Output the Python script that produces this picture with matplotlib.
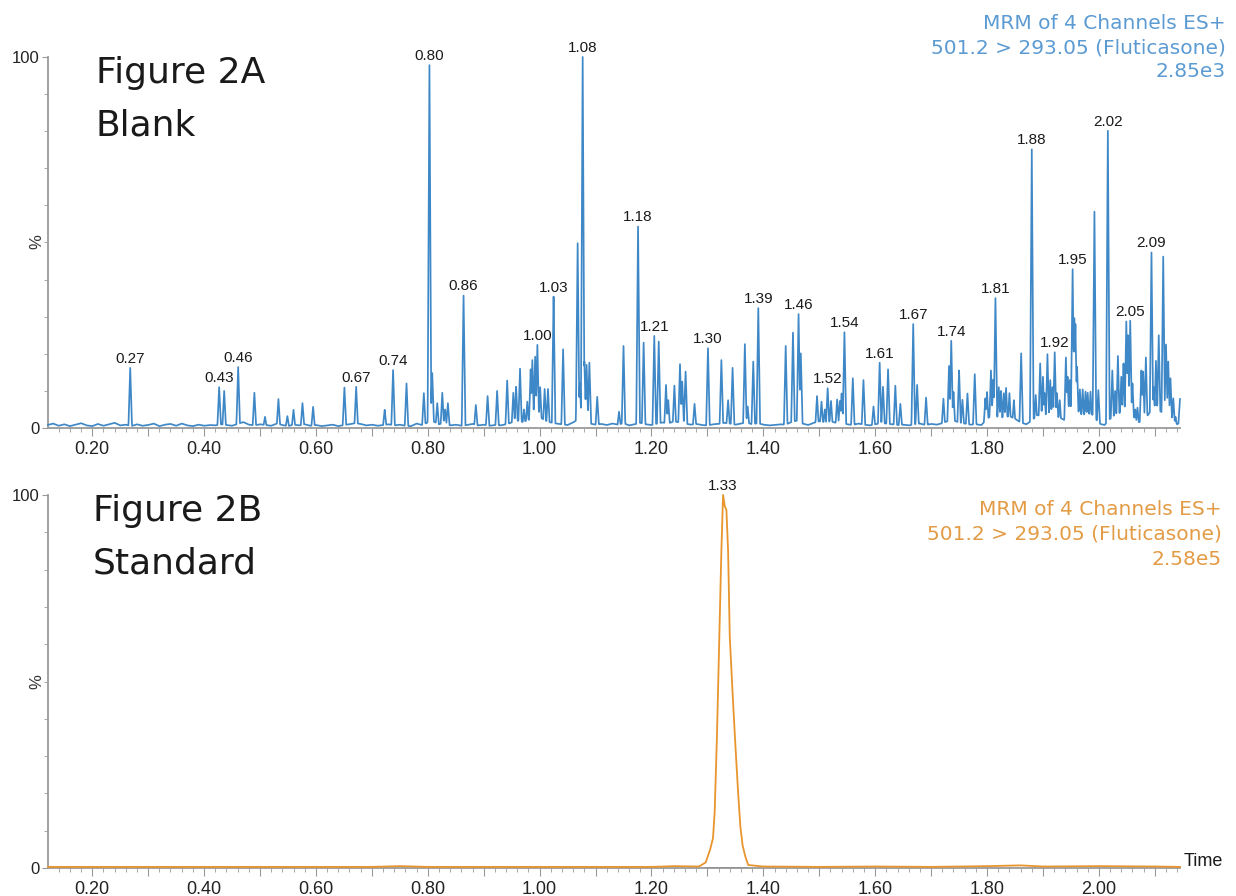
import numpy as np
import matplotlib
matplotlib.use("Agg")
import matplotlib.pyplot as plt
from matplotlib.ticker import FixedLocator, MultipleLocator, FuncFormatter

# ---------------- data ----------------
# Figure 2A (blank): apex time (min) and height (%) of each spike
peak_time = [0.268, 0.427, 0.436, 0.461, 0.490, 0.509, 0.533, 0.549, 0.560, 0.576,
             0.595, 0.651, 0.672, 0.723, 0.738, 0.762, 0.793, 0.803, 0.808, 0.817,
             0.826, 0.831, 0.836, 0.864, 0.886, 0.907, 0.924, 0.942, 0.953, 0.958,
             0.965, 0.972, 0.978, 0.984, 0.987, 0.992, 0.996, 1.001, 1.009, 1.015,
             1.025, 1.042, 1.068, 1.072, 1.077, 1.080, 1.084, 1.089, 1.103, 1.142,
             1.150, 1.176, 1.186, 1.205, 1.213, 1.226, 1.230, 1.241, 1.251, 1.255,
             1.261, 1.277, 1.301, 1.325, 1.337, 1.345, 1.367, 1.372, 1.382, 1.391,
             1.440, 1.453, 1.463, 1.467, 1.496, 1.504, 1.510, 1.515, 1.521, 1.532,
             1.537, 1.540, 1.545, 1.560, 1.579, 1.597, 1.608, 1.614, 1.623, 1.636,
             1.645, 1.668, 1.675, 1.691, 1.722, 1.732, 1.736, 1.740, 1.750, 1.756,
             1.765, 1.778, 1.797, 1.800, 1.807, 1.811, 1.815, 1.821, 1.825, 1.830,
             1.834, 1.840, 1.848, 1.861, 1.880, 1.887, 1.895, 1.900, 1.903, 1.908,
             1.913, 1.917, 1.921, 1.925, 1.930, 1.941, 1.944, 1.948, 1.953, 1.956,
             1.958, 1.961, 1.966, 1.971, 1.976, 1.980, 1.985, 1.992, 1.999, 2.016,
             2.024, 2.029, 2.034, 2.040, 2.044, 2.049, 2.052, 2.056, 2.060, 2.065,
             2.069, 2.076, 2.079, 2.084, 2.094, 2.098, 2.102, 2.107, 2.115, 2.120,
             2.124, 2.128, 2.133, 2.137, 2.145]
peak_height = [16.2, 11.0, 10.0, 16.4, 9.5, 3.0, 7.8, 3.2, 4.9, 6.7,
               5.7, 10.9, 11.1, 4.9, 15.6, 12.0, 9.4, 97.8, 14.8, 6.7,
               9.5, 5.0, 6.7, 35.7, 6.2, 8.6, 10.0, 12.8, 9.5, 11.1,
               16.0, 5.0, 7.1, 15.8, 18.3, 19.2, 22.4, 11.0, 10.5, 10.5,
               35.4, 21.2, 49.8, 12.0, 100.0, 17.9, 17.0, 17.6, 8.4, 4.4,
               22.1, 54.3, 23.0, 24.8, 23.3, 11.6, 7.5, 11.4, 17.2, 12.5,
               15.2, 6.5, 21.5, 18.3, 7.5, 16.2, 22.6, 5.8, 17.9, 32.3,
               22.1, 25.7, 30.7, 20.1, 8.6, 7.1, 5.0, 10.7, 7.3, 7.7,
               7.3, 9.3, 25.8, 13.4, 12.9, 5.8, 17.6, 11.1, 15.8, 11.4,
               6.5, 28.0, 11.6, 8.2, 7.9, 16.7, 23.5, 9.7, 15.5, 7.6,
               9.3, 14.5, 8.0, 9.7, 15.5, 13.0, 35.0, 11.0, 10.0, 9.4,
               10.8, 9.4, 7.5, 20.1, 75.1, 8.9, 17.4, 13.8, 9.4, 19.9,
               12.9, 11.0, 20.4, 9.4, 7.5, 19.0, 13.8, 12.9, 42.8, 29.6,
               28.0, 16.5, 10.4, 10.4, 9.8, 9.5, 9.8, 58.3, 10.2, 80.1,
               15.5, 10.0, 19.4, 13.8, 17.4, 28.7, 25.0, 28.9, 12.0, 5.0,
               5.5, 15.5, 15.2, 19.0, 47.3, 11.0, 18.1, 25.0, 46.2, 22.5,
               17.9, 13.4, 8.0, 3.0, 7.8]

# Figure 2A baseline level (%) sampled every 0.01 min from 0.12 to 2.15
baseline_level = [0.8, 1.2, 0.6, 1.0, 0.5, 0.9, 1.3, 0.7, 0.5, 1.1,
                  0.6, 1.0, 1.4, 0.7, 0.9, 0.5, 1.0, 0.6, 0.8, 1.2,
                  0.5, 0.9, 1.1, 0.6, 1.2, 0.7, 0.5, 0.9, 0.6, 0.8,
                  0.7, 1.0, 0.8, 0.6, 1.1, 1.6, 0.9, 0.7, 1.0, 0.8,
                  0.6, 1.2, 0.8, 0.5, 0.9, 0.7, 1.0, 0.6, 0.8, 0.5,
                  0.7, 0.9, 0.5, 0.8, 1.0, 1.3, 1.1, 0.7, 0.9, 0.6,
                  0.8, 1.0, 0.7, 0.9, 0.6, 0.5, 1.2, 0.8, 1.5, 1.8,
                  1.0, 1.4, 0.7, 0.9, 0.6, 0.8, 1.1, 0.7, 0.9, 0.6,
                  0.8, 0.7, 1.0, 1.5, 2.0, 1.6, 2.2, 2.5, 3.0, 2.0,
                  1.5, 1.2, 1.0, 0.8, 1.5, 2.5, 2.0, 1.2, 0.9, 1.1,
                  0.8, 1.2, 0.9, 1.3, 0.7, 1.0, 1.4, 1.0, 0.8, 1.2,
                  1.5, 1.2, 1.8, 1.5, 1.2, 0.9, 1.1, 0.8, 0.7, 1.0,
                  1.1, 1.4, 1.2, 0.9, 1.2, 1.5, 1.0, 1.3, 0.9, 0.7,
                  0.8, 1.0, 0.9, 1.6, 2.0, 1.2, 0.8, 1.4, 1.8, 1.6,
                  1.8, 1.4, 1.5, 1.0, 0.8, 1.2, 0.9, 0.7, 1.0, 1.3,
                  1.2, 1.0, 0.8, 0.9, 0.7, 1.0, 1.2, 0.8, 1.1, 0.9,
                  1.3, 1.9, 2.0, 1.5, 1.2, 0.9, 1.0, 0.8, 2.5, 3.5,
                  3.0, 2.8, 3.2, 2.5, 1.5, 1.0, 2.0, 3.5, 3.0, 4.0,
                  3.5, 2.8, 2.0, 4.5, 5.0, 3.5, 4.0, 3.5, 1.2, 0.8,
                  2.5, 3.0, 4.5, 5.0, 3.5, 1.5, 2.0, 4.0, 6.0, 4.5,
                  3.5, 2.5, 1.0, 2.0]
baseline_time = np.round(0.12 + 0.01 * np.arange(len(baseline_level)), 2)

# Figure 2A peak labels
label_text = ["0.27", "0.43", "0.46", "0.67", "0.74", "0.80", "0.86", "1.00", "1.03",
              "1.08", "1.18", "1.21", "1.30", "1.39", "1.46", "1.52", "1.54", "1.61",
              "1.67", "1.74", "1.81", "1.88", "1.92", "1.95", "2.02", "2.05", "2.09"]
label_time = [0.268, 0.427, 0.461, 0.672, 0.738, 0.803, 0.864, 0.996, 1.025,
              1.077, 1.176, 1.205, 1.301, 1.391, 1.463, 1.515, 1.545, 1.608,
              1.668, 1.736, 1.815, 1.880, 1.921, 1.953, 2.016, 2.056, 2.094]

# Figure 2B (standard)
std_time = [0.121, 0.20, 0.30, 0.40, 0.50, 0.60, 0.70, 0.75, 0.80, 0.90,
            1.00, 1.10, 1.20, 1.24, 1.285, 1.297, 1.305, 1.310, 1.313, 1.317,
            1.321, 1.325, 1.328, 1.331, 1.334, 1.337, 1.340, 1.345, 1.350, 1.355,
            1.359, 1.363, 1.368, 1.373, 1.40, 1.50, 1.60, 1.70, 1.80, 1.86,
            1.90, 2.00, 2.10, 2.145]
std_level = [0.3, 0.3, 0.3, 0.3, 0.3, 0.3, 0.3, 0.5, 0.3, 0.3,
             0.3, 0.3, 0.3, 0.5, 0.4, 1.5, 5, 8, 15, 35,
             60, 85, 100, 97, 96, 85, 62, 47, 33, 20,
             11, 6, 3, 0.8, 0.4, 0.3, 0.4, 0.3, 0.5, 0.7,
             0.4, 0.5, 0.4, 0.3]
std_label_text = "1.33"
std_label_time = 1.328
integration_start, integration_end = 1.297, 1.373

x_range = (0.121, 2.145)
major_ticks = [0.2, 0.3, 0.4, 0.5, 0.6, 0.7, 0.8, 0.9, 1.0, 1.1, 1.2, 1.3, 1.4,
               1.5, 1.6, 1.7, 1.8, 1.9, 2.0, 2.1]

info_lines = ["MRM of 4 Channels ES+", "501.2 > 293.05 (Fluticasone)"]
scale_a = "2.85e3"
scale_b = "2.58e5"

# ---------------- styling ----------------
BLUE = "#3F88C7"
BLUE_TXT = "#5B9BD2"
ORANGE = "#E8952E"
ORANGE_TXT = "#E39B45"
SPINE = "#9A9A9A"
ARIAL = ["Liberation Sans", "DejaVu Sans"]
VERD = ["DejaVu Sans"]

W, H = 1236, 896
fig = plt.figure(figsize=(W / 100, H / 100), dpi=100)
fig.patch.set_facecolor("white")


def fx(px):
    return px / W


def fy(py):
    return 1 - py / H


ax1 = fig.add_axes([fx(48), fy(428), fx(1180 - 48), (428 - 57) / H])
ax2 = fig.add_axes([fx(48), fy(868), fx(1180 - 48), (868 - 495) / H])


def style_axis(ax):
    ax.set_xlim(*x_range)
    ax.set_ylim(0, 100)
    for s in ("top", "right"):
        ax.spines[s].set_visible(False)
    for s in ("left", "bottom"):
        ax.spines[s].set_color(SPINE)
        ax.spines[s].set_linewidth(1.3)
    ax.xaxis.set_major_locator(FixedLocator(major_ticks))
    ax.xaxis.set_minor_locator(MultipleLocator(0.02))
    ax.xaxis.set_major_formatter(FuncFormatter(
        lambda v, p: f"{v:.2f}" if int(round(v * 10)) % 2 == 0 else ""))
    ax.yaxis.set_major_locator(FixedLocator([0, 100]))
    ax.yaxis.set_minor_locator(MultipleLocator(10))
    ax.tick_params(axis="x", which="major", length=6, width=0.8, color=SPINE,
                   labelsize=13, labelcolor="#222222", pad=3)
    ax.tick_params(axis="x", which="minor", length=3, width=0.6, color=SPINE)
    ax.tick_params(axis="y", which="major", length=4, width=0.8, color=SPINE,
                   labelsize=12, labelcolor="#222222", pad=2)
    ax.tick_params(axis="y", which="minor", length=3, width=0.6, color=SPINE)
    for lab in ax.get_xticklabels() + ax.get_yticklabels():
        lab.set_family(ARIAL)


style_axis(ax1)
style_axis(ax2)

# ---- Figure 2A trace ----
hw = 0.0033
grid = np.arange(x_range[0], x_range[1] + 1e-9, 0.0004)
t = np.union1d(grid, np.array(peak_time))
y = np.interp(t, baseline_time, baseline_level)
for pt, ph in zip(peak_time, peak_height):
    y = np.maximum(y, ph * np.clip(1 - np.abs(t - pt) / hw, 0, None))
ax1.plot(t, y, color=BLUE, lw=1.25, clip_on=False, zorder=3)

pt_arr = np.array(peak_time)
ph_arr = np.array(peak_height)
for txt, lt in zip(label_text, label_time):
    h = ph_arr[np.argmin(np.abs(pt_arr - lt))]
    ax1.annotate(txt, (lt, h), xytext=(0, 1.5), textcoords="offset points",
                 ha="center", va="bottom", fontsize=11, family=ARIAL,
                 color="#1a1a1a", zorder=4)

# ---- Figure 2B trace ----
ax2.plot([integration_start, integration_end], [0, 0], color="#2E3B55", lw=1.3, zorder=2)
ax2.plot(std_time, std_level, color=ORANGE, lw=1.3, clip_on=False, zorder=3)
ax2.annotate(std_label_text, (std_label_time, 100), xytext=(0, 1.5),
             textcoords="offset points", ha="center", va="bottom",
             fontsize=11, family=ARIAL, color="#1a1a1a")

# ---- panel texts ----
fig.text(fx(96), fy(83), "Figure 2A", fontsize=26, family=VERD, color="#1a1a1a", va="baseline")
fig.text(fx(96), fy(136), "Blank", fontsize=26, family=VERD, color="#1a1a1a", va="baseline")
fig.text(fx(93), fy(521), "Figure 2B", fontsize=26, family=VERD, color="#1a1a1a", va="baseline")
fig.text(fx(93), fy(574), "Standard", fontsize=26, family=VERD, color="#1a1a1a", va="baseline")

for i, line in enumerate(info_lines + [scale_a]):
    fig.text(fx(1226), fy(29 + 24 * i), line, fontsize=14.5, family=VERD,
             color=BLUE_TXT, ha="right", va="baseline")
for i, line in enumerate(info_lines + [scale_b]):
    fig.text(fx(1222), fy(515 + 25 * i), line, fontsize=14.5, family=VERD,
             color=ORANGE_TXT, ha="right", va="baseline")

fig.text(fx(37), fy(242), "%", fontsize=12, family=ARIAL, color="#333333",
         rotation=90, ha="center", va="center")
fig.text(fx(37), fy(682), "%", fontsize=12, family=ARIAL, color="#333333",
         rotation=90, ha="center", va="center")
fig.text(fx(1184), fy(866), "Time", fontsize=13, family=ARIAL, color="#1a1a1a",
         ha="left", va="baseline")

fig.savefig("out.png", dpi=100, facecolor="white")
